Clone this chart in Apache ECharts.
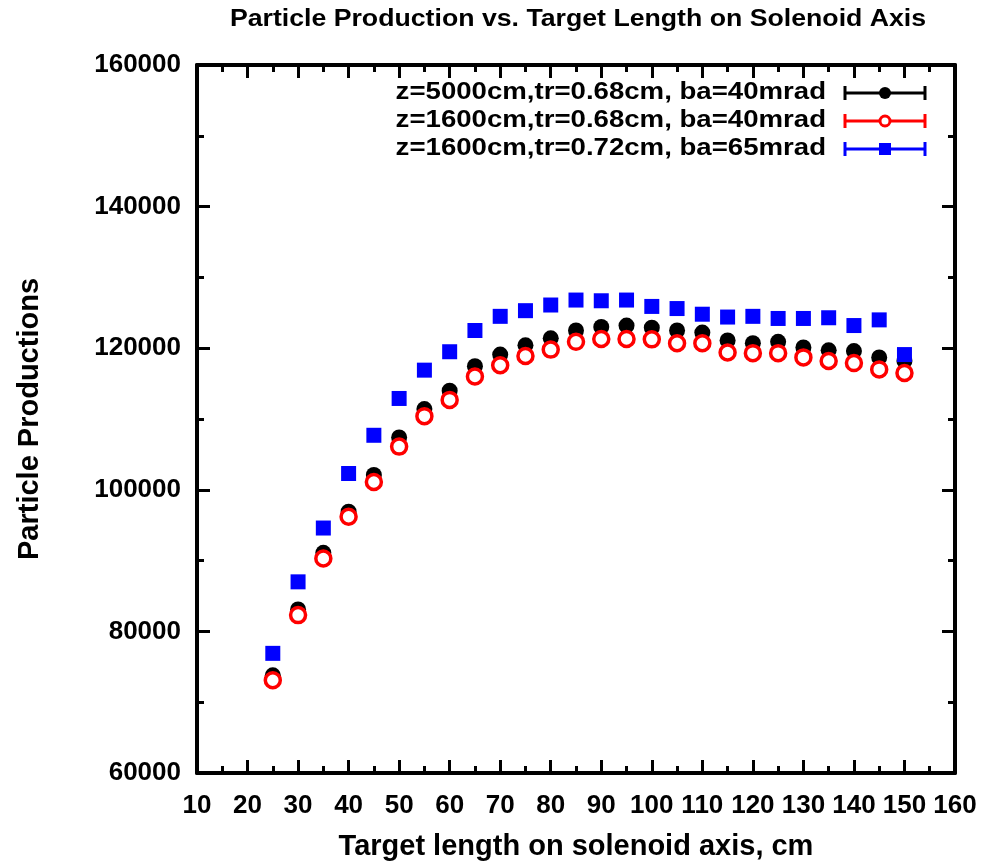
<!DOCTYPE html>
<html>
<head>
<meta charset="utf-8">
<script src="https://cdn.jsdelivr.net/npm/echarts@6/dist/echarts.min.js"></script>
<style>html,body{margin:0;padding:0;background:#fff}#c{width:989px;height:863px}</style>
</head>
<body>
<div id="c"></div>
<script>
var xValues = [25,30,35,40,45,50,55,60,65,70,75,80,85,90,95,100,105,110,115,120,125,130,135,140,145,150];
var seriesNames = [
  'z=5000cm,tr=0.68cm, ba=40mrad',
  'z=1600cm,tr=0.68cm, ba=40mrad',
  'z=1600cm,tr=0.72cm, ba=65mrad'
];
var blackValues = [73800,83100,91100,96900,102100,107400,111400,114000,117450,119100,120400,121400,122500,123000,123200,122900,122500,122200,121100,120700,120900,120100,119700,119600,118700,118200];
var redValues   = [73100,82300,90300,96200,101100,106100,110400,112700,116000,117600,118900,119800,120900,121300,121300,121250,120700,120700,119400,119300,119300,118700,118200,117900,117000,116500];
var blueValues  = [76900,87000,94600,102300,107700,112900,116900,119500,122500,124500,125300,126100,126800,126700,126800,125900,125600,124800,124400,124500,124200,124200,124300,123200,124000,119100];
var xTicks = [10,160,10];
var yTicks = [60000,160000,20000];
var titleText = 'Particle Production vs. Target Length on Solenoid Axis';
var xName = 'Target length on solenoid axis, cm';
var yName = 'Particle Productions';

function pairs(vals){ return xValues.map(function(x,i){ return [x, vals[i]]; }); }

var FONT = 'Liberation Sans, Arial, sans-serif';
var chart = echarts.init(document.getElementById('c'), null, {renderer:'canvas'});

function xAxisCfg(pos, showLabel){
  return {
    type:'value', position:pos, min:xTicks[0], max:xTicks[1], interval:xTicks[2],
    axisLine:{show:true, onZero:false, lineStyle:{color:'#000', width:4}},
    axisTick:{show:true, inside:true, length:13, lineStyle:{color:'#000', width:3}},
    minorTick:{show:true, splitNumber:2, length:7, lineStyle:{color:'#000', width:3}},
    splitLine:{show:false},
    axisLabel:{show:showLabel, color:'#000', fontFamily:FONT, fontWeight:'bold', fontSize:26, margin:20},
    name: showLabel ? xName : '',
    nameLocation:'middle', nameGap:59,
    nameTextStyle:{color:'#000', fontFamily:FONT, fontWeight:'bold', fontSize:29}
  };
}
function yAxisCfg(pos, showLabel){
  return {
    type:'value', position:pos, min:yTicks[0], max:yTicks[1], interval:yTicks[2],
    axisLine:{show:true, onZero:false, lineStyle:{color:'#000', width:4}},
    axisTick:{show:true, inside:true, length:13, lineStyle:{color:'#000', width:3}},
    minorTick:{show:true, splitNumber:2, length:7, lineStyle:{color:'#000', width:3}},
    splitLine:{show:false},
    axisLabel:{show:showLabel, color:'#000', fontFamily:FONT, fontWeight:'bold', fontSize:26, margin:16,
      formatter:function(v){ return String(v); }},
    name: showLabel ? yName : '',
    nameLocation:'middle', nameGap:153, nameRotate:90,
    nameTextStyle:{color:'#000', fontFamily:FONT, fontWeight:'bold', fontSize:29}
  };
}

var graphics = [];
graphics.push({type:'text', x:578, y:8, scaleX:1.16,
  style:{text:titleText, fill:'#000', font:'bold 23px '+FONT, textAlign:'center', textVerticalAlign:'top'}});

var legendRows = [93,121,149];
var legendColors = ['#000','#f00','#0000ff'];
legendRows.forEach(function(y,i){
  var c = legendColors[i];
  graphics.push({type:'text', x:826, y:y, scaleX:1.2,
    style:{text:seriesNames[i], fill:'#000', font:'bold 23px '+FONT, textAlign:'right', textVerticalAlign:'middle'}});
  graphics.push({type:'line', shape:{x1:845,y1:y,x2:925,y2:y}, style:{stroke:c, lineWidth:3}});
  graphics.push({type:'line', shape:{x1:845,y1:y-7,x2:845,y2:y+7}, style:{stroke:c, lineWidth:3}});
  graphics.push({type:'line', shape:{x1:925,y1:y-7,x2:925,y2:y+7}, style:{stroke:c, lineWidth:3}});
  if(i===0) graphics.push({type:'circle', shape:{cx:885,cy:y,r:6}, style:{fill:'#000'}});
  if(i===1) graphics.push({type:'circle', shape:{cx:885,cy:y,r:5}, style:{fill:'#fff', stroke:'#f00', lineWidth:3}});
  if(i===2) graphics.push({type:'rect', shape:{x:879,y:y-6,width:12,height:12}, style:{fill:'#0000ff'}});
});

chart.setOption({
  animation:false,
  backgroundColor:'#fff',
  grid:{left:197, right:34, top:65, bottom:90, containLabel:false, outerBoundsMode:'none'},
  xAxis:[xAxisCfg('bottom', true), xAxisCfg('top', false)],
  yAxis:[yAxisCfg('left', true), yAxisCfg('right', false)],
  graphic:graphics,
  series:[
    {name:seriesNames[0], type:'scatter', data:pairs(blackValues), symbol:'circle', symbolSize:16,
      itemStyle:{color:'#000', opacity:1}, z:2},
    {name:seriesNames[1], type:'scatter', data:pairs(redValues), symbol:'circle', symbolSize:15,
      itemStyle:{color:'#fff', borderColor:'#f00', borderWidth:3.5, opacity:1}, z:3},
    {name:seriesNames[2], type:'scatter', data:pairs(blueValues), symbol:'rect', symbolSize:15,
      itemStyle:{color:'#0000ff', opacity:1}, z:4}
  ]
});
</script>
</body>
</html>
